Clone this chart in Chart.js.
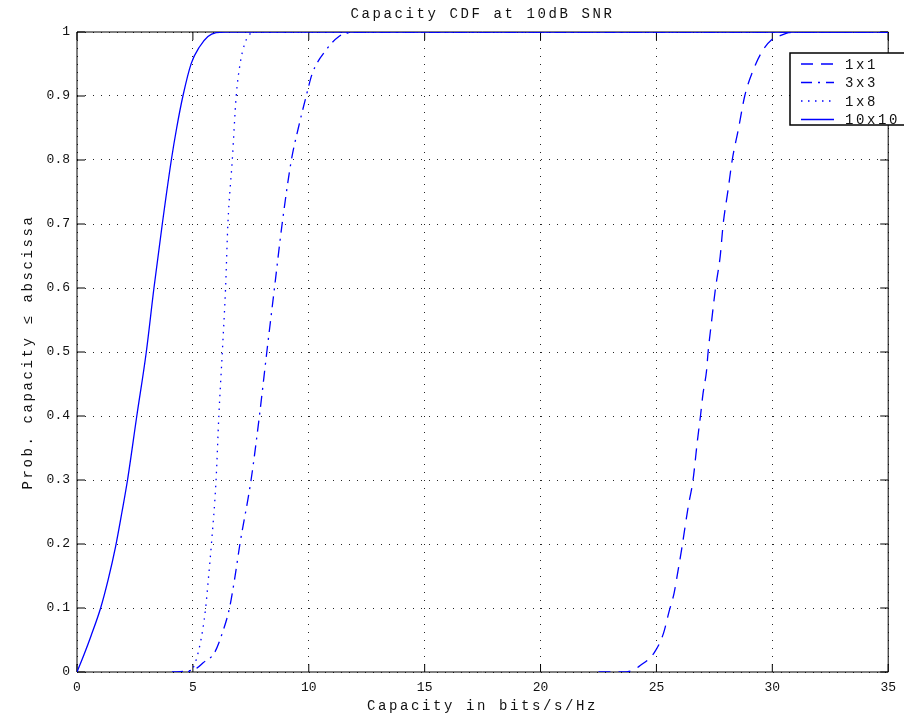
<!DOCTYPE html>
<html>
<head>
<meta charset="utf-8">
<title>Capacity CDF at 10dB SNR</title>
<script src="https://cdn.jsdelivr.net/npm/chart.js@4.4.0/dist/chart.umd.min.js"></script>
<style>
  html, body { margin: 0; padding: 0; background: #fff; }
  #wrap { width: 904px; height: 718px; }
</style>
</head>
<body>
<div id="wrap"><canvas id="cdfChart" width="904" height="718"></canvas></div>
<script>
const chartTitle = 'Capacity CDF at 10dB SNR';
const xTitle = 'Capacity in bits/s/Hz';
const yTitle = 'Prob. capacity \u2264 abscissa';
const seriesLabels = ['1x1', '3x3', '1x8', '10x10'];
const xTicks = [0, 5, 10, 15, 20, 25, 30, 35];
const yTicks = [0, 0.1, 0.2, 0.3, 0.4, 0.5, 0.6, 0.7, 0.8, 0.9, 1];

// 1x1 - dashed curve on the right
const cap1x1 = [22.5, 23.5, 24.0, 24.3, 24.9, 25.3, 25.55, 25.76, 25.94, 26.08, 26.37, 26.58, 26.77, 26.9, 27.01, 27.16, 27.23, 27.37, 27.55, 27.75, 27.88, 28.09, 28.27, 28.53, 28.81, 29.17, 29.6, 29.96, 30.4, 30.7, 31.1, 35];
const cdf1x1 = [0, 0, 0.003, 0.01, 0.03, 0.06, 0.095, 0.123, 0.16, 0.19, 0.258, 0.3, 0.362, 0.4, 0.435, 0.47, 0.5, 0.545, 0.6, 0.649, 0.7, 0.753, 0.8, 0.847, 0.9, 0.94, 0.972, 0.9875, 0.995, 0.999, 1, 1];

// 3x3 - dash-dot
const cap3x3 = [4.1, 4.6, 5.17, 5.43, 5.93, 6.29, 6.58, 6.8, 7.03, 7.51, 7.87, 8.19, 8.52, 8.85, 9.25, 9.55, 9.89, 10.15, 10.75, 11.3, 11.75, 12.2, 35];
const cdf3x3 = [0, 0.001, 0.006, 0.014, 0.03, 0.063, 0.1, 0.145, 0.2, 0.3, 0.4, 0.5, 0.6, 0.7, 0.8, 0.85, 0.9, 0.935, 0.972, 0.993, 0.999, 1, 1];

// 1x8 - dotted
const cap1x8 = [4.8, 5.03, 5.15, 5.29, 5.42, 5.55, 5.68, 5.8, 6.0, 6.12, 6.27, 6.41, 6.51, 6.7, 6.87, 7.04, 7.24, 7.5, 7.7, 35];
const cdf1x8 = [0, 0.008, 0.02, 0.04, 0.065, 0.1, 0.15, 0.2, 0.3, 0.4, 0.5, 0.6, 0.7, 0.8, 0.9, 0.951, 0.982, 0.998, 1, 1];

// 10x10 - solid curve on the left
const cap10x10 = [0, 0.3, 0.6, 1.02, 1.35, 1.66, 1.94, 2.18, 2.58, 2.99, 3.32, 3.68, 4.07, 4.3, 4.57, 4.93, 5.29, 5.65, 6.0, 6.4, 35];
const cdf10x10 = [0, 0.027, 0.056, 0.1, 0.145, 0.195, 0.25, 0.3, 0.4, 0.5, 0.6, 0.7, 0.8, 0.85, 0.9, 0.951, 0.977, 0.993, 0.999, 1, 1];

const BLUE = '#0000ff';
const TEXT_FONT = '14px "Liberation Mono", "DejaVu Sans Mono", monospace';

function toPoints(xs, ys) {
  return xs.map((v, i) => ({ x: v, y: ys[i] }));
}

function spacedText(ctx, text, x, y, rot) {
  ctx.save();
  ctx.translate(x, y);
  if (rot) ctx.rotate(rot);
  ctx.font = TEXT_FONT;
  ctx.letterSpacing = '2.6px';
  ctx.fillStyle = '#111';
  ctx.textAlign = 'center';
  ctx.textBaseline = 'middle';
  ctx.fillText(text, 0, 0);
  ctx.restore();
}

// matlab style box, inward ticks, legend and titles
const matlabAxes = {
  id: 'matlabAxes',
  beforeDatasetsDraw(chart) {
    const { ctx, chartArea: a, scales } = chart;
    const tl = 8;
    ctx.save();
    ctx.strokeStyle = '#000';
    ctx.lineWidth = 1;
    ctx.beginPath();
    ctx.rect(a.left, a.top, a.right - a.left, a.bottom - a.top);
    scales.x.ticks.forEach(t => {
      const px = scales.x.getPixelForValue(t.value);
      ctx.moveTo(px, a.bottom); ctx.lineTo(px, a.bottom - tl);
      ctx.moveTo(px, a.top); ctx.lineTo(px, a.top + tl);
    });
    scales.y.ticks.forEach(t => {
      const py = scales.y.getPixelForValue(t.value);
      ctx.moveTo(a.left, py); ctx.lineTo(a.left + tl, py);
      ctx.moveTo(a.right, py); ctx.lineTo(a.right - tl, py);
    });
    ctx.stroke();
    ctx.restore();
  },
  afterDraw(chart) {
    const { ctx, chartArea: a } = chart;
    spacedText(ctx, chartTitle, (a.left + a.right) / 2, 14);
    spacedText(ctx, xTitle, (a.left + a.right) / 2, 706);
    spacedText(ctx, yTitle, 28, (a.top + a.bottom) / 2, -Math.PI / 2);

    // legend box
    const bx = 790, by = 53, bw = 130, bh = 72;
    ctx.save();
    ctx.fillStyle = '#fff';
    ctx.fillRect(bx, by, bw, bh);
    ctx.strokeStyle = '#000';
    ctx.lineWidth = 1.5;
    ctx.strokeRect(bx, by, bw, bh);
    chart.data.datasets.forEach((ds, i) => {
      const ly = 64 + i * 18.5;
      ctx.beginPath();
      ctx.strokeStyle = ds.borderColor;
      ctx.lineWidth = ds.borderWidth;
      ctx.setLineDash(ds.borderDash || []);
      ctx.moveTo(801, ly);
      ctx.lineTo(834, ly);
      ctx.stroke();
      ctx.setLineDash([]);
      ctx.font = TEXT_FONT;
      ctx.letterSpacing = '2.6px';
      ctx.fillStyle = '#111';
      ctx.textAlign = 'left';
      ctx.textBaseline = 'middle';
      ctx.fillText(ds.label, 845, ly + 1);
    });
    ctx.restore();
  }
};

const lineStyles = [
  { dash: [12, 8], width: 1.3 },
  { dash: [11, 6, 2, 6], width: 1.3 },
  { dash: [1.5, 5.5], width: 1.3 },
  { dash: [], width: 1.3 }
];
const seriesData = [
  toPoints(cap1x1, cdf1x1),
  toPoints(cap3x3, cdf3x3),
  toPoints(cap1x8, cdf1x8),
  toPoints(cap10x10, cdf10x10)
];

const ctx = document.getElementById('cdfChart').getContext('2d');

const myChart = new Chart(ctx, {
  type: 'line',
  data: {
    datasets: seriesLabels.map((lbl, i) => ({
      label: lbl,
      data: seriesData[i],
      borderColor: BLUE,
      borderWidth: lineStyles[i].width,
      borderDash: lineStyles[i].dash,
      pointRadius: 0,
      fill: false,
      cubicInterpolationMode: 'monotone'
    }))
  },
  options: {
    responsive: false,
    animation: false,
    events: [],
    layout: {
      autoPadding: false,
      padding: { top: 32, right: 14, left: 0, bottom: 0 }
    },
    plugins: {
      legend: { display: false },
      title: { display: false },
      tooltip: { enabled: false }
    },
    scales: {
      x: {
        type: 'linear',
        min: 0,
        max: 35,
        afterFit: s => { s.height = 46; },
        afterBuildTicks: s => { s.ticks = xTicks.map(v => ({ value: v })); },
        ticks: {
          padding: 8,
          color: '#111',
          font: { family: '"Liberation Mono", "DejaVu Sans Mono", monospace', size: 13 },
          maxRotation: 0
        },
        grid: { color: 'rgba(0,0,0,0.85)', lineWidth: 1, drawTicks: false },
        border: { display: false, dash: [1, 7] }
      },
      y: {
        type: 'linear',
        min: 0,
        max: 1,
        afterFit: s => { s.width = 77; },
        afterBuildTicks: s => { s.ticks = yTicks.map(v => ({ value: v })); },
        ticks: {
          padding: 7,
          color: '#111',
          font: { family: '"Liberation Mono", "DejaVu Sans Mono", monospace', size: 13 },
          callback: v => String(+v.toFixed(1))
        },
        grid: { color: 'rgba(0,0,0,0.85)', lineWidth: 1, drawTicks: false },
        border: { display: false, dash: [1, 7] }
      }
    }
  },
  plugins: [matlabAxes]
});
</script>
</body>
</html>
